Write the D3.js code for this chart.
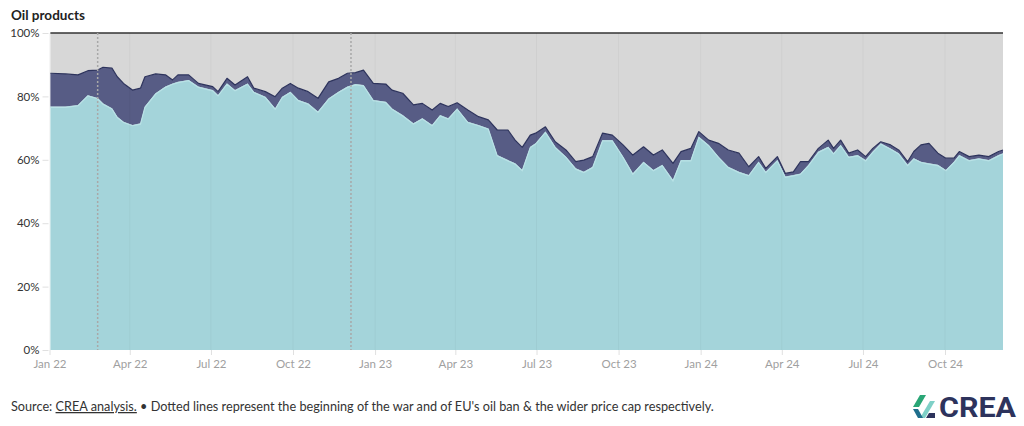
<!DOCTYPE html>
<html>
<head>
<meta charset="utf-8">
<script src="https://cdn.jsdelivr.net/npm/d3@7"></script>
<style>
  html, body { margin: 0; padding: 0; background: #fff; }
  svg { display: block; font-family: Lato, "Open Sans", sans-serif; }
</style>
</head>
<body>
<svg id="chart" width="1024" height="426"></svg>
<script>
// ---- data ----
// days since 2022-01-01
const dayOffsets = [1,18,32,43,54,60,70,76,83,93,102,107,119,130,138,144,156,167,183,189,199,208,222,229,242,253,261,270,279,290,301,313,324,334,343,352,363,377,384,396,408,418,429,438,447,457,469,481,492,502,514,522,530,539,545,556,567,579,590,599,609,620,631,643,654,666,677,687,699,708,719,728,739,750,761,773,784,795,803,816,825,834,842,851,862,873,879,887,896,906,915,923,932,943,952,962,969,977,986,996,1005,1014,1020,1031,1042,1053,1064,1069];
// cumulative share (%) up to the top of the light-teal band
const tealShare = [76.8,76.8,77.3,80.4,79.5,77.8,76.3,73.6,72.0,71.0,71.5,76.8,81.0,83.1,84.1,84.6,85.2,83.1,82.0,80.4,84.1,82.0,84.1,81.5,79.9,76.2,79.9,81.5,78.9,77.8,75.2,79.4,81.5,83.1,83.9,83.6,78.9,78.3,76.2,74.1,71.5,73.1,71.0,74.1,73.1,76.2,72.0,71.0,69.9,61.5,59.9,58.9,56.8,64.1,65.2,68.9,64.1,61.0,57.3,56.2,57.8,66.2,66.2,61.0,55.7,59.4,56.8,58.4,53.6,59.9,59.9,67.3,64.7,61.0,57.8,56.2,55.2,59.4,56.2,59.9,54.7,55.2,55.7,58.4,62.6,64.1,62.1,64.7,61.0,61.5,59.9,62.6,65.2,63.6,62.1,58.4,60.5,59.4,58.9,58.4,56.8,59.4,61.5,59.9,60.5,59.9,61.5,62.1];
// cumulative share (%) up to the top of the dark navy band
const navyTopShare = [87.3,87.1,86.8,88.1,88.3,89.2,88.9,86.2,84.1,82.0,82.6,86.2,87.1,86.8,85.2,86.8,86.8,84.1,83.1,81.5,85.7,83.6,86.2,82.6,81.5,79.9,82.6,84.1,82.6,81.5,79.4,84.6,85.7,87.3,87.5,88.3,84.1,83.9,82.0,81.0,77.3,77.8,75.7,77.8,76.8,78.0,75.7,73.6,72.6,69.4,69.4,66.2,63.9,67.8,68.4,70.4,65.7,63.1,59.4,59.9,61.0,68.4,67.8,64.7,61.5,64.1,61.5,63.1,58.9,62.6,63.6,68.9,66.2,65.2,63.1,62.1,57.8,61.0,57.3,61.0,55.7,56.2,59.4,59.4,63.6,66.2,63.6,66.2,62.1,63.1,61.0,63.6,65.7,64.7,63.1,59.4,62.6,64.7,65.2,62.1,60.5,60.5,62.6,61.0,61.5,61.0,62.6,63.1];
const yTickValues = [0, 20, 40, 60, 80, 100];
const xTickLabels = ["Jan 22","Apr 22","Jul 22","Oct 22","Jan 23","Apr 23","Jul 23","Oct 23","Jan 24","Apr 24","Jul 24","Oct 24"];
const eventDates = ["2022-02-24", "2022-12-05"];
const seriesKeys = ["teal", "navy", "grey"];
const seriesColors = { teal: "#a4d4da", navy: "#575c85", grey: "#d7d7d7" };

// ---- build table ----
const start = new Date(2022, 0, 1);
const rows = dayOffsets.map((d, i) => ({
  date: d3.timeDay.offset(start, d),
  teal: tealShare[i],
  navy: navyTopShare[i] - tealShare[i],
  grey: 100 - navyTopShare[i]
}));

const svg = d3.select("#chart");
const margin = { left: 49.5, right: 1024 - 1003, top: 33, bottom: 426 - 350 };
const W = 1024, H = 426;

const x = d3.scaleTime()
  .domain([start, d3.timeDay.offset(start, 1069)])
  .range([margin.left, W - margin.right]);
const y = d3.scaleLinear().domain([0, 100]).range([H - margin.bottom, margin.top]);

const stacked = d3.stack().keys(seriesKeys)(rows);

const area = d3.area()
  .x(d => x(d.data.date))
  .y0(d => y(d[0]))
  .y1(d => y(d[1]));

svg.append("g").selectAll("path")
  .data(stacked).join("path")
  .attr("fill", d => seriesColors[d.key])
  .attr("d", area);

// light edge on teal
svg.append("path")
  .datum(stacked[0])
  .attr("fill", "none")
  .attr("stroke", "#b9e2e6")
  .attr("stroke-width", 1.2)
  .attr("d", d3.line().x(d => x(d.data.date)).y(d => y(d[1]) + 0.8));

// navy top line
svg.append("path")
  .datum(stacked[1])
  .attr("fill", "none")
  .attr("stroke", "#2d335c")
  .attr("stroke-width", 1.2)
  .attr("stroke-linejoin", "round")
  .attr("d", d3.line().x(d => x(d.data.date)).y(d => y(d[1])));

// top 100% line
svg.append("path")
  .datum(stacked[2])
  .attr("fill", "none")
  .attr("stroke", "#333")
  .attr("stroke-width", 1.5)
  .attr("d", d3.line().x(d => x(d.data.date)).y(d => y(d[1])));

// x ticks
const xTicks = d3.timeMonth.every(3).range(start, d3.timeDay.offset(start, 1070));

// vertical faint grid
svg.append("g").selectAll("line")
  .data(xTicks).join("line")
  .attr("x1", d => x(d)).attr("x2", d => x(d))
  .attr("y1", y(100)).attr("y2", y(0))
  .attr("stroke", "rgba(0,0,0,0.035)")
  .attr("stroke-width", 1);

const xAxis = d3.axisBottom(x)
  .tickValues(xTicks)
  .tickFormat((d, i) => xTickLabels[i])
  .tickSize(5)
  .tickPadding(5);
const gx = svg.append("g")
  .attr("transform", `translate(0,${y(0)})`)
  .call(xAxis);
gx.select(".domain").remove();
gx.selectAll("line").attr("stroke", "#e0e0e0");
gx.selectAll("text")
  .attr("fill", "#a0a0a0")
  .attr("font-size", 11.5)
  .attr("font-family", "Lato, sans-serif");

// y axis
const yAxis = d3.axisLeft(y)
  .tickValues(yTickValues)
  .tickFormat(d => d + "%")
  .tickSize(6)
  .tickPadding(3);
const gy = svg.append("g")
  .attr("transform", `translate(${margin.left - 1},0)`)
  .call(yAxis);
gy.select(".domain").remove();
gy.selectAll("line").attr("stroke", "#e0e0e0");
gy.selectAll("text")
  .attr("fill", "#333")
  .attr("font-size", 11.5)
  .attr("font-family", "Lato, sans-serif");

// event dotted lines
svg.append("g").selectAll("line")
  .data(eventDates).join("line")
  .attr("x1", d => x(new Date(d + "T00:00"))).attr("x2", d => x(new Date(d + "T00:00")))
  .attr("y1", y(100)).attr("y2", y(0))
  .attr("stroke", "#a8a8a8")
  .attr("stroke-width", 1.5)
  .attr("stroke-dasharray", "2,2");

// title
svg.append("text")
  .attr("x", 11).attr("y", 20)
  .attr("font-size", 13.5)
  .attr("font-weight", 700)
  .attr("fill", "#222")
  .text("Oil products");

// footer
const foot = svg.append("text")
  .attr("x", 11).attr("y", 411)
  .attr("font-size", 12.7)
  .attr("fill", "#333");
foot.append("tspan").text("Source: ");
foot.append("tspan").attr("text-decoration", "underline").text("CREA analysis.");
foot.append("tspan").text(" • Dotted lines represent the beginning of the war and of EU's oil ban & the wider price cap respectively.");

// logo
const logo = svg.append("g").attr("transform", "translate(912,395)");
logo.append("path").attr("d", "M1,12 L8,0 L14,0 L7,12 Z").attr("fill", "#2aa676");
logo.append("path").attr("d", "M8,23 L18,6 L23,6 L13,23 Z").attr("fill", "#7fd0c7");
logo.append("path").attr("d", "M1,14 L6,14 L11,23 L6,23 Z").attr("fill", "#1f6e8c");
logo.append("path").attr("d", "M14,23 L23,23 L23,18 L17,18 Z").attr("fill", "#2d335c");
logo.append("text")
  .attr("x", 27).attr("y", 22)
  .attr("font-size", 27)
  .attr("font-weight", 700)
  .attr("fill", "#2d335c")
  .attr("font-family", "'Liberation Sans Narrow', Roboto, sans-serif")
  .attr("textLength", 77)
  .attr("lengthAdjust", "spacingAndGlyphs")
  .text("CREA");
</script>
</body>
</html>
